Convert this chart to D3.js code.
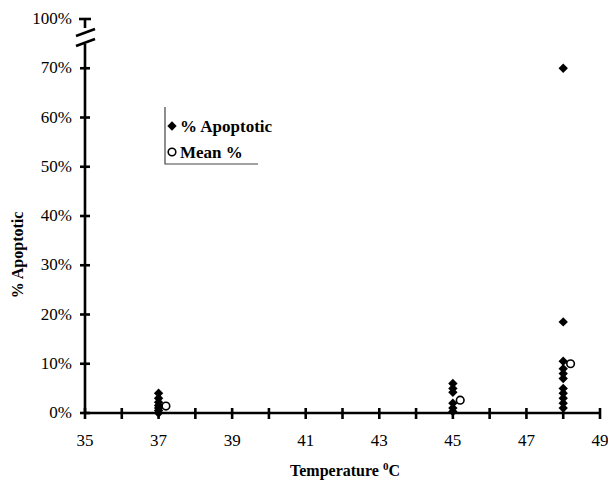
<!DOCTYPE html>
<html>
<head>
<meta charset="utf-8">
<script src="https://cdn.jsdelivr.net/npm/d3@7"></script>
<style>
	body { margin: 0; background: #fff; }
</style>
</head>
<body>
<svg id="chart" width="608" height="486" font-family="'Liberation Serif', 'DejaVu Serif', serif"></svg>
<script>
// Readings taken from the figure
var temps37 = [37, 37, 37, 37, 37, 37, 37],
	apop37 = [4, 3, 2.2, 1.5, 1, 0.5, 0];
var temps45 = [45, 45, 45, 45, 45, 45],
	apop45 = [6, 5, 4.2, 2, 1, 0.3];
var temps48 = [48, 48, 48, 48, 48, 48, 48, 48, 48, 48, 48],
	apop48 = [70, 18.5, 10.5, 9, 8, 7, 5, 4, 3, 2, 1];
var meanTemps = [37.2, 45.2, 48.2],
	meanApop = [1.4, 2.6, 10];
var xTicks = [35, 37, 39, 41, 43, 45, 47, 49];
var yTicks = [0, 10, 20, 30, 40, 50, 60, 70, 80];
var yTickLabels = ['0%', '10%', '20%', '30%', '40%', '50%', '60%', '70%', '100%'];

var svg = d3.select('#chart');

var x = d3.scaleLinear().domain([35, 49]).range([85, 600]),
	y = d3.scaleLinear().domain([0, 80]).range([413, 19]);

var ink = '#000';

//- - - - - - - - - - - - - - - - - - - - - - - - - - - - - - - - - - - - - - -
// axes

var axes = svg.append('g').attr('stroke', ink).attr('stroke-width', 2.6);

axes.append('line')
	.attr('x1', x(35)).attr('x2', x(49))
	.attr('y1', y(0)).attr('y2', y(0));

// y axis broken between 70% and 100%
axes.append('line')
	.attr('x1', x(35)).attr('x2', x(35))
	.attr('y1', y(0)).attr('y2', y(0) - 369);
axes.append('line')
	.attr('x1', x(35)).attr('x2', x(35))
	.attr('y1', y(80)).attr('y2', y(80) + 9);
axes.append('line')
	.attr('x1', x(35) - 6).attr('x2', x(35) + 6)
	.attr('y1', y(80)).attr('y2', y(80));
axes.selectAll('line.brk')
	.data([0, 10])
	.enter().append('line')
	.attr('class', 'brk')
	.attr('x1', x(35) - 9).attr('x2', x(35) + 10)
	.attr('y1', function (d) { return y(80) + 17 + d; })
	.attr('y2', function (d) { return y(80) + 10 + d; });

axes.selectAll('line.xt')
	.data(d3.range(35, 50))
	.enter().append('line')
	.attr('class', 'xt')
	.attr('x1', function (d) { return x(d); })
	.attr('x2', function (d) { return x(d); })
	.attr('y1', y(0) - 5).attr('y2', y(0) + 6);

axes.selectAll('line.yt')
	.data(yTicks.slice(0, 8))
	.enter().append('line')
	.attr('class', 'yt')
	.attr('x1', x(35) - 5).attr('x2', x(35) + 5)
	.attr('y1', function (d) { return y(d); })
	.attr('y2', function (d) { return y(d); });

svg.append('g').selectAll('text')
	.data(xTicks)
	.enter().append('text')
	.attr('x', function (d) { return x(d); })
	.attr('y', 446)
	.attr('text-anchor', 'middle')
	.attr('font-size', 17)
	.text(function (d) { return d; });

svg.append('g').selectAll('text')
	.data(yTicks)
	.enter().append('text')
	.attr('x', 72)
	.attr('y', function (d) { return y(d) + 5; })
	.attr('text-anchor', 'end')
	.attr('font-size', 17)
	.text(function (d, i) { return yTickLabels[i]; });

svg.append('text')
	.attr('transform', 'translate(23,' + 255 + ') rotate(-90)')
	.attr('text-anchor', 'middle')
	.attr('font-size', 16)
	.attr('font-weight', 'bold')
	.text('% Apoptotic');

var xl = svg.append('text')
	.attr('x', 345).attr('y', 476)
	.attr('text-anchor', 'middle')
	.attr('font-size', 16)
	.attr('font-weight', 'bold');
xl.append('tspan').text('Temperature ');
xl.append('tspan').attr('font-size', 11).attr('dy', -6).text('0');
xl.append('tspan').attr('dy', 6).text('C');

//- - - - - - - - - - - - - - - - - - - - - - - - - - - - - - - - - - - - - - -
// points

var diamond = d3.symbol().type(d3.symbolDiamond2).size(56);

var pts = d3.zip(temps37.concat(temps45, temps48), apop37.concat(apop45, apop48));

svg.append('g').selectAll('path')
	.data(pts)
	.enter().append('path')
	.attr('d', diamond)
	.attr('transform', function (d) { return 'translate(' + x(d[0]) + ',' + y(d[1]) + ')'; })
	.attr('fill', ink);

svg.append('g').selectAll('circle')
	.data(d3.zip(meanTemps, meanApop))
	.enter().append('circle')
	.attr('cx', function (d) { return x(d[0]); })
	.attr('cy', function (d) { return y(d[1]); })
	.attr('r', 3.8)
	.attr('fill', '#fff')
	.attr('stroke', ink)
	.attr('stroke-width', 1.6);

//- - - - - - - - - - - - - - - - - - - - - - - - - - - - - - - - - - - - - - -
// legend

var lg = svg.append('g');
lg.append('path')
	.attr('d', 'M165,107V164H258')
	.attr('fill', 'none')
	.attr('stroke', '#444')
	.attr('stroke-width', 1.2);
lg.append('path')
	.attr('d', diamond)
	.attr('transform', 'translate(172,126)')
	.attr('fill', ink);
lg.append('circle')
	.attr('cx', 172).attr('cy', 152).attr('r', 3.8)
	.attr('fill', '#fff').attr('stroke', ink).attr('stroke-width', 1.6);
lg.append('text').attr('x', 180).attr('y', 132)
	.attr('font-size', 17).attr('font-weight', 'bold').text('% Apoptotic');
lg.append('text').attr('x', 180).attr('y', 158)
	.attr('font-size', 17).attr('font-weight', 'bold').text('Mean %');
</script>
</body>
</html>
